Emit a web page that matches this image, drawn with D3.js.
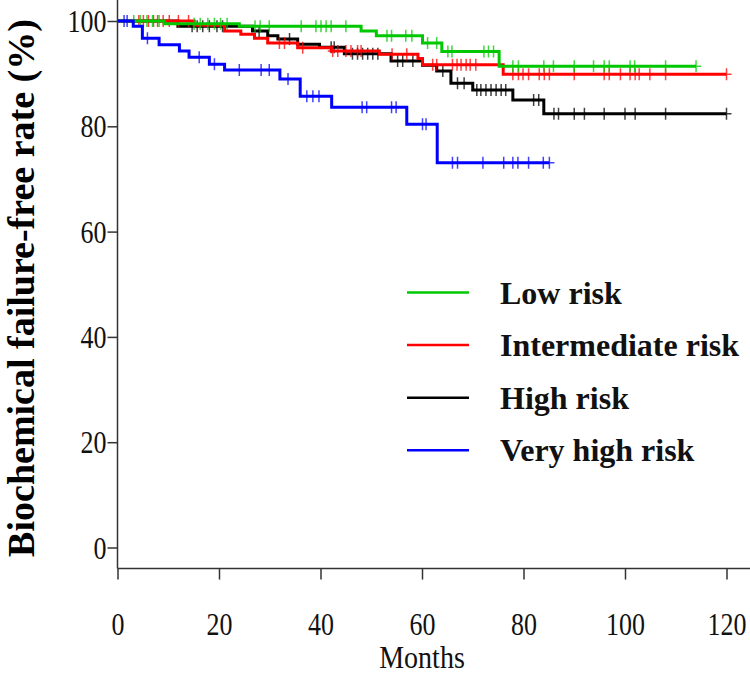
<!DOCTYPE html>
<html>
<head>
<meta charset="utf-8">
<script src="https://cdn.jsdelivr.net/npm/d3@7/dist/d3.min.js"></script>
<style>
  body { margin: 0; background: #fff; }
  text { font-family: "Liberation Serif", "Times New Roman", serif; }
</style>
</head>
<body>
<div id="graph"></div>
<script>
// step points: time of each drop and the rate after it, last entry = end of follow-up
var lowTimes = [0, 9.2, 24, 48, 51, 60.1, 63.9, 75.2, 114];
var lowRates = [100, 99.5, 99.0, 98.1, 97.2, 95.8, 94.2, 91.4, 91.4];
var lowCensor = [3.2, 4.5, 5.8, 6.9, 8.2, 15.1, 16.3, 17.8, 19.1, 20.3, 21.6, 27.1, 28.1, 29.9, 36.2,
    39.1, 40.1, 41.1, 42.1, 45, 53.1, 54, 56.8, 58, 61.1, 62.9, 65.1, 65.9, 72.2, 73.1, 74.1,
    77.9, 79, 84, 85.9, 90, 93.8, 95.9, 96.9, 101, 101.9, 108, 114];

var intTimes = [0, 15.1, 21.1, 24.3, 27, 29.6, 35.5, 42.1, 51.6, 59.2, 60.1, 76, 120];
var intRates = [100, 99.2, 98.1, 97.5, 96.7, 95.8, 94.9, 94.3, 93.7, 92.9, 91.7, 89.9, 89.9];
var intCensor = [4.2, 5.1, 6.1, 7.1, 7.9, 9.0, 10.2, 12, 14, 31.9, 32.9, 36.5, 42.4, 43.4, 45, 46,
    47.3, 48, 54.1, 57, 62.1, 62.9, 66, 66.9, 67.7, 68.7, 69.5, 70.6, 77.9, 79, 79.9, 81, 83.1,
    84.1, 85.1, 90, 95.9, 96.9, 99.1, 101, 102, 102.8, 104.9, 108, 120];

var highTimes = [0, 11.9, 26.6, 29.6, 31.6, 35.5, 39.8, 44.7, 53.9, 60.1, 62.9, 65.7, 70, 77.9, 84, 120];
var highRates = [100, 99.0, 98.1, 97.2, 96.6, 95.6, 95.0, 93.8, 92.4, 91.6, 90.5, 88.2, 86.9, 85.0, 82.4, 82.4];
var highCensor = [14.7, 15.7, 16.8, 18.1, 19.6, 20.7, 27.9, 33.9, 42.1, 42.7, 46.3, 47.3, 48.3, 49.3,
    50.3, 51.3, 55.2, 56.2, 58.2, 64.1, 67, 68.3, 70.8, 71.6, 72.6, 73.6, 74.6, 75.6, 76.5,
    82, 83, 86, 86.9, 90, 92, 95.9, 100, 102, 108, 120];

var vhighTimes = [0, 3.1, 4.9, 8.2, 12.2, 14.1, 18.1, 21.1, 32, 36, 42.2, 57, 63, 85.1];
var vhighRates = [100, 99.0, 96.7, 95.5, 94.3, 93.1, 91.8, 90.7, 89.0, 85.7, 83.6, 80.4, 73.1, 73.1];
var vhighCensor = [1.3, 1.9, 5.9, 16.1, 19.1, 24, 28.3, 29.9, 33.6, 37.3, 38.5, 39.7, 48.2, 49.1,
    54, 54.9, 60.1, 60.8, 66, 67, 72, 76.1, 77.9, 78.9, 81, 83.9, 85.1];

var groupNames = ["Low risk", "Intermediate risk", "High risk", "Very high risk"];
var groupColors = ["#00c800", "#ff0000", "#000000", "#0000ff"];
var xTicks = [0, 20, 40, 60, 80, 100, 120];
var yTicks = [0, 20, 40, 60, 80, 100];

var width = 750, height = 673;
var stretch = 1.2; // the original's lettering is a little taller than wide

var svg = d3.select("#graph").append("svg")
    .attr("width", width)
    .attr("height", height);

var x = d3.scaleLinear().domain([0, 120]).range([117.5, 726.5]);
var y = d3.scaleLinear().domain([0, 100]).range([547.5, 21]);

// axes (lines drawn a bit past the tick range, like the original)
var axisColor = "#333";
svg.append("line")
    .attr("x1", x(0)).attr("x2", width)
    .attr("y1", y(-4)).attr("y2", y(-4))
    .attr("stroke", axisColor).attr("stroke-width", 1.5);
svg.append("line")
    .attr("x1", x(0)).attr("x2", x(0))
    .attr("y1", 0).attr("y2", y(-4))
    .attr("stroke", axisColor).attr("stroke-width", 1.5);

var xAxis = svg.append("g")
    .attr("transform", "translate(0," + y(-4) + ")")
    .call(d3.axisBottom(x).tickValues(xTicks).tickSize(11).tickSizeOuter(0));
var yAxis = svg.append("g")
    .attr("transform", "translate(" + x(0) + ",0)")
    .call(d3.axisLeft(y).tickValues(yTicks).tickSize(10).tickPadding(1).tickSizeOuter(0));

[xAxis, yAxis].forEach(function(a) {
    a.select(".domain").remove();
    a.selectAll(".tick line").attr("stroke", axisColor).attr("stroke-width", 1.5);
    a.selectAll(".tick text")
        .attr("fill", "#111")
        .attr("transform", "scale(1," + stretch + ")")
        .style("font-family", "'Liberation Serif', serif")
        .style("font-size", "26px");
});
xAxis.selectAll(".tick text").attr("dy", "0").attr("y", 66 / stretch);
yAxis.selectAll(".tick text").attr("dy", "0.34em");

svg.append("text")
    .attr("transform", "translate(" + x(60) + ",668) scale(1,1.12)")
    .attr("text-anchor", "middle")
    .style("font-size", "28px")
    .attr("fill", "#111")
    .text("Months");

svg.append("text")
    .attr("transform", "translate(34,288) rotate(-90)")
    .attr("text-anchor", "middle")
    .style("font-size", "38px")
    .style("font-weight", "bold")
    .text("Biochemical failure-free rate (%)");

// curves
var groups = [
    {times: highTimes, rates: highRates, censor: highCensor, color: groupColors[2]},
    {times: intTimes, rates: intRates, censor: intCensor, color: groupColors[1]},
    {times: lowTimes, rates: lowRates, censor: lowCensor, color: groupColors[0]},
    {times: vhighTimes, rates: vhighRates, censor: vhighCensor, color: groupColors[3]}
];

var step = d3.line()
    .x(function(d) { return x(d[0]); })
    .y(function(d) { return y(d[1]); })
    .curve(d3.curveStepAfter);

function rateAt(g, t) {
    var i = d3.bisectRight(g.times, t) - 1;
    return g.rates[Math.max(0, i)];
}

groups.forEach(function(g) {
    var pts = g.times.map(function(t, i) { return [t, g.rates[i]]; });
    var layer = svg.append("g");
    layer.append("path")
        .attr("d", step(pts))
        .attr("fill", "none")
        .attr("stroke", g.color)
        .attr("stroke-width", 3);
    layer.selectAll("path.cens")
        .data(g.censor)
        .enter().append("path")
        .attr("class", "cens")
        .attr("d", function(t) {
            var cx = x(t), cy = y(rateAt(g, t));
            return "M" + cx + "," + (cy - 6) + "V" + (cy + 6) + "M" + (cx - 5) + "," + cy + "H" + (cx + 5);
        })
        .attr("stroke", g.color)
        .attr("stroke-opacity", 0.75)
        .attr("stroke-width", 1.5);
});

// legend
var legend = svg.append("g");
groupNames.forEach(function(name, i) {
    var ly = 292.5 + i * 52.6;
    legend.append("line")
        .attr("x1", 407).attr("x2", 469)
        .attr("y1", ly).attr("y2", ly)
        .attr("stroke", groupColors[i])
        .attr("stroke-width", 2.5);
    legend.append("text")
        .attr("x", 500).attr("y", ly + 11)
        .style("font-size", "32px")
        .style("font-weight", "bold")
        .attr("fill", "#111")
        .text(name);
});
</script>
</body>
</html>
